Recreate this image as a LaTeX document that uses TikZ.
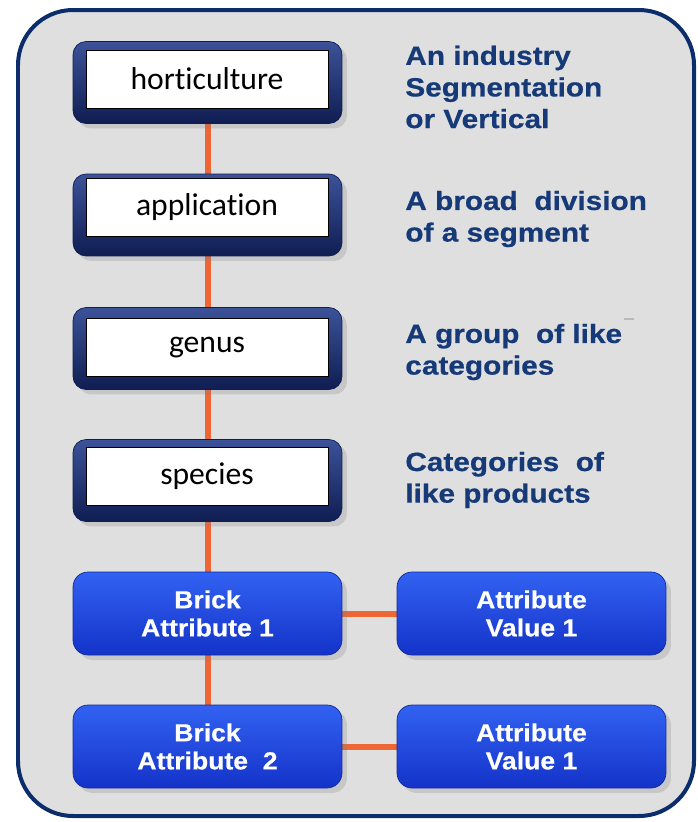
\documentclass[tikz,border=0pt]{standalone}
\usepackage{fontspec}
\setmainfont{Carlito}[Ligatures=NoCommon]
\newfontfamily\descfont{Liberation Sans}[FakeStretch=1.13, FakeBold=0.6]
\newfontfamily\brickfont{Liberation Sans}[FakeStretch=1.08, FakeBold=0.5]
\usepackage{xcolor}
\usepackage{tikz}
\usetikzlibrary{shadows}

\definecolor{panelgray}{HTML}{DFDFDF}
\definecolor{panelline}{HTML}{0C2D6B}
\definecolor{wireorange}{HTML}{EE6634}
\definecolor{descblue}{HTML}{163A78}
\definecolor{navytop}{HTML}{3C5299}
\definecolor{navymid}{HTML}{1C3072}
\definecolor{navybot}{HTML}{0F1D52}
\definecolor{bricktop}{HTML}{3262F2}
\definecolor{brickbot}{HTML}{1433C8}
\definecolor{brickedge}{HTML}{0F2AA0}

\pgfdeclarelayer{panel}
\pgfdeclarelayer{wires}
\pgfsetlayers{panel,wires,main}

\begin{document}
\begin{tikzpicture}[
    x=0.02cm, y=-0.02cm,
    tierframe/.style={rectangle, rounded corners=0.26cm, minimum width=5.38cm, minimum height=1.64cm,
        top color=navytop, middle color=navymid, bottom color=navybot, draw=navybot,
        drop shadow={shadow xshift=0.1cm, shadow yshift=-0.1cm, opacity=0.25}},
    tierbox/.style={rectangle, draw=black, fill=white, minimum width=4.84cm, minimum height=1.16cm,
        font=\fontsize{18}{20}\selectfont},
    brick/.style={rectangle, rounded corners=0.3cm, minimum width=5.38cm, minimum height=1.66cm,
        top color=bricktop, bottom color=brickbot, draw=brickedge, align=center, text=white,
        font=\brickfont\bfseries\fontsize{14}{16}\selectfont,
        drop shadow={shadow xshift=0.1cm, shadow yshift=-0.1cm, opacity=0.25}},
    desc/.style={anchor=west, inner sep=0pt, align=left, text=descblue,
        font=\descfont\bfseries\fontsize{15}{18}\selectfont},
    wire/.style={draw=wireorange, line width=0.12cm}
]
\useasboundingbox (0,0) rectangle (697,822);

% Panel
\begin{pgfonlayer}{panel}
\draw[fill=panelgray, draw=panelline, line width=0.08cm, rounded corners=1.1cm] (18,10) rectangle (694,816);
\end{pgfonlayer}

% Tiers
\node[tierframe] (hortF) at (207.5,82.5) {};
\node[tierbox] (hort) at (207,79) {horticulture};
\node[tierframe] (applF) at (207.5,215) {};
\node[tierbox] (appl) at (207,207.5) {application};
\node[tierframe] (genusF) at (207.5,348.5) {};
\node[tierbox] (genus) at (207,347.5) {genus};
\node[tierframe] (speciesF) at (207.5,480.5) {};
\node[tierbox] (species) at (207,476) {species};

% Bricks and values
\node[brick] (brickA) at (207.5,613.5) {Brick\\Attribute 1};
\node[brick] (valA) at (531.5,613.5) {Attribute\\Value 1};
\node[brick] (brickB) at (207.5,746.5) {Brick\\Attribute\ \ 2};
\node[brick] (valB) at (531.5,746.5) {Attribute\\Value 1};

% Descriptions
\node[desc] (hortD) at (405,87) {An industry\\Segmentation\\or Vertical};
\node[desc] (applD) at (405,219) {A broad\ \ division\\of a segment};
\node[desc] (genusD) at (405,352) {A group\ \ of like\\categories};
\node[desc] (speciesD) at (405,480) {Categories\ \ of\\like products};
\draw[gray!55, line width=0.03cm] (624,319) -- (634,319);

% Wires
\begin{pgfonlayer}{wires}
\draw[wire] (hortF) -- (applF);
\draw[wire] (applF) -- (genusF);
\draw[wire] (genusF) -- (speciesF);
\draw[wire] (speciesF) -- (brickA);
\draw[wire] (brickA) -- (brickB);
\draw[wire] (brickA) -- (valA);
\draw[wire] (brickB) -- (valB);
\end{pgfonlayer}

\end{tikzpicture}
\end{document}
